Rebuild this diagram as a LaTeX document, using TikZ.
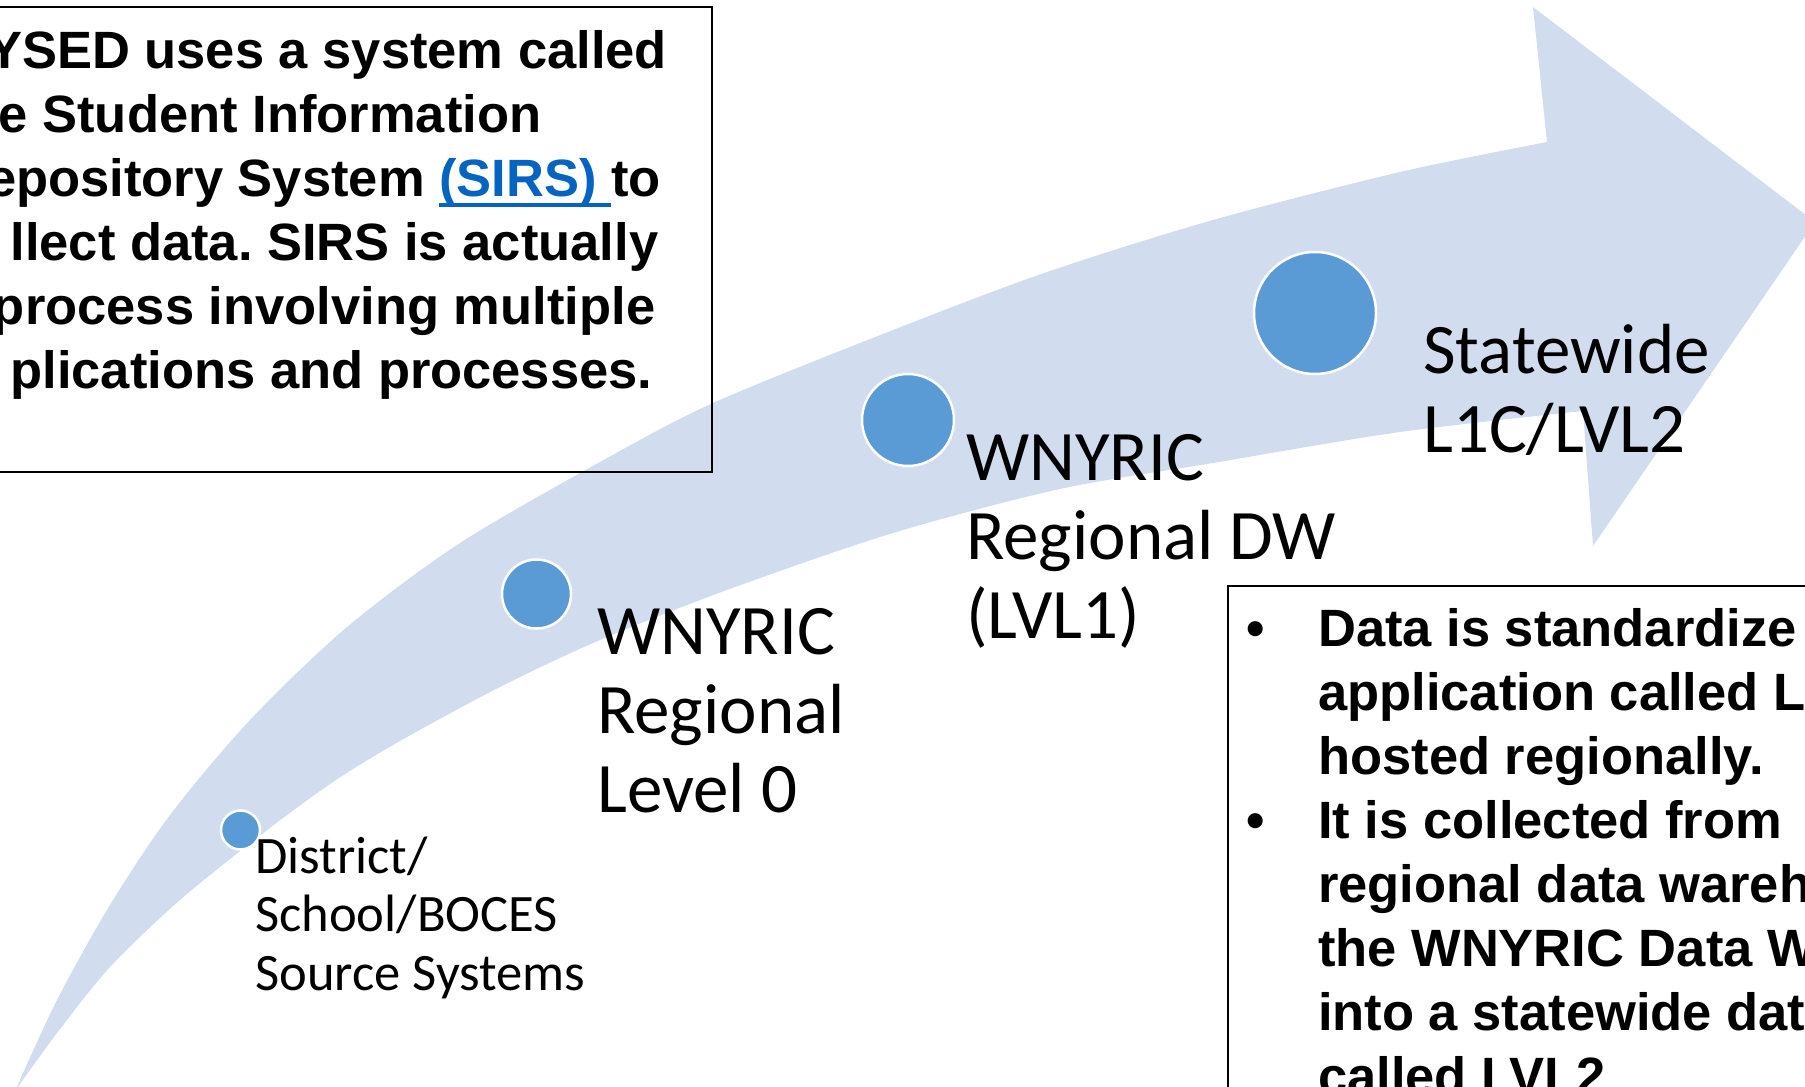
\documentclass[tikz,border=0pt]{standalone}
\usepackage{fontspec}
\newfontfamily\arialfont{Liberation Sans}
\newfontfamily\calfont{Carlito}
\definecolor{bandfill}{RGB}{209,221,239}
\definecolor{dotfill}{RGB}{91,155,213}
\definecolor{linkblue}{RGB}{5,99,193}
\newcommand\sirsul[1]{\setbox0\hbox{#1}\rlap{\rule[-10.5pt]{\wd0}{4pt}}\box0}
\frenchspacing
\begin{document}
\begin{tikzpicture}[x=1pt,y=-1pt,
  band/.style={fill=bandfill, draw=none},
  dot/.style={circle, fill=dotfill, draw=white, line width=2.5pt, inner sep=0pt},
  infobox/.style={draw=black, line width=2pt},
  boldtxt/.style={anchor=base west, inner sep=0pt, font=\arialfont\bfseries\fontsize{52.5pt}{63.7pt}\selectfont},
  biglbl/.style={anchor=base west, inner sep=0pt, font=\calfont\fontsize{71pt}{79pt}\selectfont},
  smalllbl/.style={anchor=base west, inner sep=0pt, font=\calfont\fontsize{52.6pt}{58.5pt}\selectfont},
]
\useasboundingbox (0,0) rectangle (1805,1087);

% curved arrow
\fill[band] plot[smooth, tension=0.5] coordinates {(15,1091) (57,1000) (110,905) (170,815) (250,720) (347,627) (460,543) (600,462) (713,403) (893,330) (1047,272) (1213,220) (1400,172) (1547,142)}
  -- (1533,7) -- (1815,222) -- (1593,546) -- (1583,411)
  -- plot[smooth, tension=0.5] coordinates {(1583,411) (1400,432) (1213,463) (1060,489) (893,533) (727,590) (600,640) (500,687) (400,741) (333,782) (262,834) (180,900) (110,967) (57,1033) (15,1091)} -- cycle;

% dots
\node[dot, minimum size=39pt] (d1) at (240.5,830) {};
\node[dot, minimum size=69pt] (d2) at (536.5,594) {};
\node[dot, minimum size=92pt] (d3) at (908,420) {};
\node[dot, minimum size=122pt] (d4) at (1315,313) {};

% boxes
\draw[infobox] (-100,7) rectangle (711.5,471.5);
\draw[infobox] (1227.5,585.5) rectangle (1905,1187);

% top-left text
\node[boldtxt] (a1) at (-51,68) {\phantom{N}YSED uses a system called};
\node[boldtxt] (a2) at (-51,132) {\phantom{th}e Student Information};
\node[boldtxt] (a3) at (-51,196) {\phantom{R}epository System \textcolor{linkblue}{\sirsul{(SIRS)\ }}to};
\node[boldtxt] (a4) at (-51,260) {\phantom{co}llect data. SIRS is actually};
\node[boldtxt] (a5) at (-51,324) {\phantom{a}\ process involving multiple};
\node[boldtxt] (a6) at (-51,388) {\phantom{ap}plications and processes.};

% bottom-right text
\node[boldtxt] (b0) at (1246,646) {•};
\node[boldtxt] (b1) at (1318,646) {Data is standardize};
\node[boldtxt] (b2) at (1318,710) {application called L};
\node[boldtxt] (b3) at (1318,774) {hosted regionally.};
\node[boldtxt] (b9) at (1246,838) {•};
\node[boldtxt] (b4) at (1318,838) {It is collected from};
\node[boldtxt] (b5) at (1318,902) {regional data wareh};
\node[boldtxt] (b6) at (1318,966) {the WNYRIC Data W};
\node[boldtxt] (b7) at (1318,1030) {into a statewide dat};
\node[boldtxt] (b8) at (1318,1094) {called LVL2};

% labels
\node[smalllbl] (l1a) at (255,873) {District/};
\node[smalllbl] (l1b) at (255,931.5) {School/BOCES};
\node[smalllbl] (l1c) at (255,990) {Source Systems};

\node[biglbl] (l2a) at (597,654) {WNYRIC};
\node[biglbl] (l2b) at (597,733) {Regional};
\node[biglbl] (l2c) at (597,812) {Level 0};

\node[biglbl] (l3a) at (966,480) {WNYRIC};
\node[biglbl] (l3b) at (966,559) {Regional DW};
\node[biglbl] (l3c) at (966,638) {(LVL1)};

\node[biglbl] (l4a) at (1423,373) {Statewide};
\node[biglbl] (l4b) at (1423,452) {L1C/LVL2};
\end{tikzpicture}
\end{document}
